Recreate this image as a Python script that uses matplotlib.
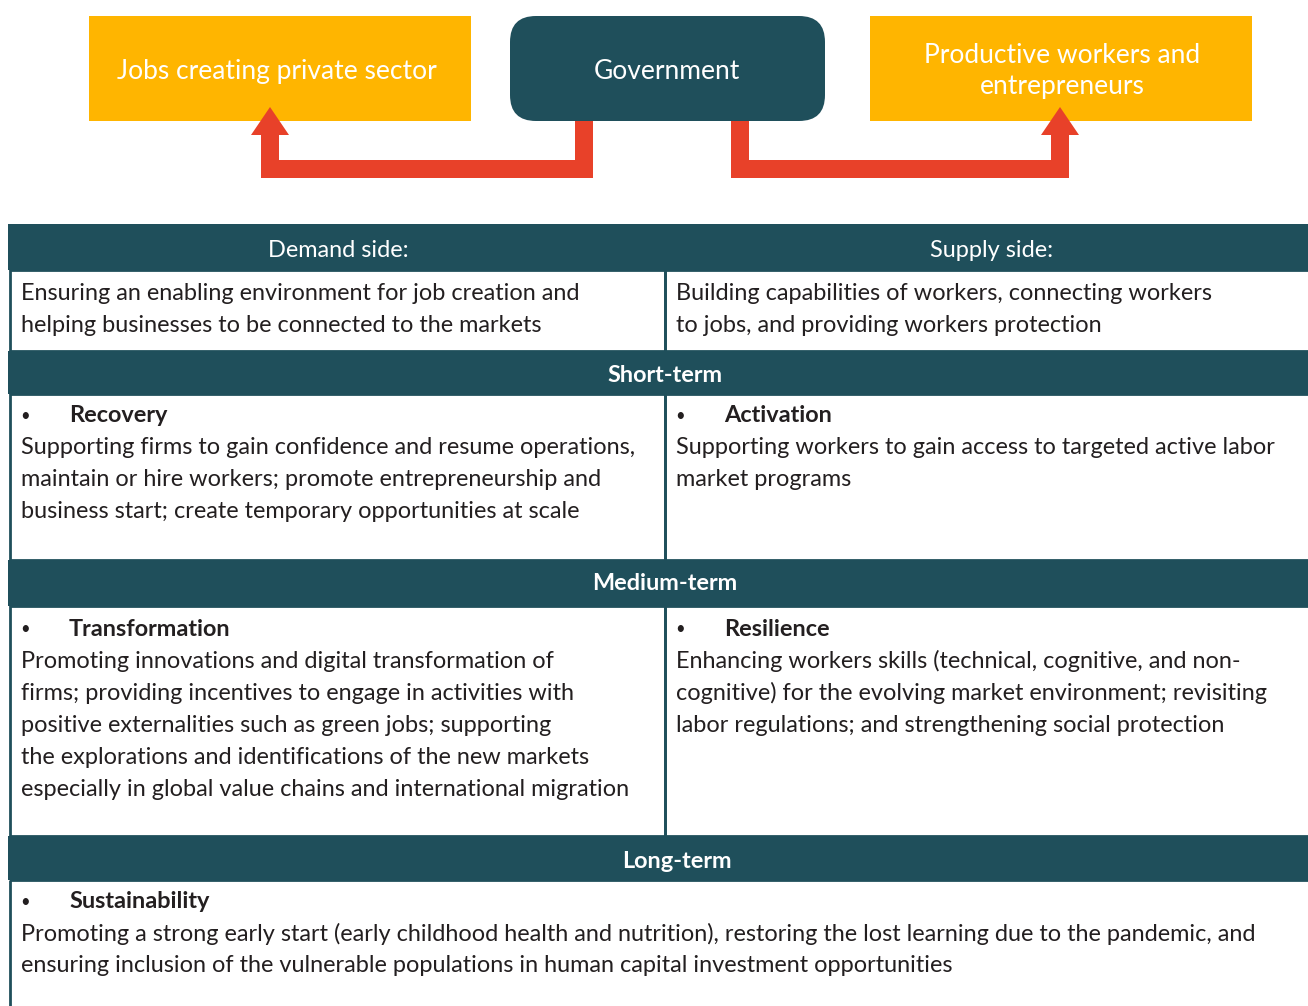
import matplotlib
matplotlib.use('Agg')
import matplotlib.pyplot as plt
from matplotlib.patches import Rectangle, FancyBboxPatch, Polygon

# ---- content ----
top_boxes = ['Jobs creating private sector', 'Government', 'Productive workers and\nentrepreneurs']
side_titles = ['Demand side:', 'Supply side:']
side_desc = [['Ensuring an enabling environment for job creation and',
              'helping businesses to be connected to the markets'],
             ['Building capabilities of workers, connecting workers',
              'to jobs, and providing workers protection']]
term_titles = ['Short-term', 'Medium-term', 'Long-term']
demand_heads = ['Recovery', 'Transformation']
demand_body = [['Supporting firms to gain confidence and resume operations,',
                'maintain or hire workers; promote entrepreneurship and',
                'business start; create temporary opportunities at scale'],
               ['Promoting innovations and digital transformation of',
                'firms; providing incentives to engage in activities with',
                'positive externalities such as green jobs; supporting',
                'the explorations and identifications of the new markets',
                'especially in global value chains and international migration']]
supply_heads = ['Activation', 'Resilience']
supply_body = [['Supporting workers to gain access to targeted active labor',
                'market programs'],
               ['Enhancing workers skills (technical, cognitive, and non-',
                'cognitive) for the evolving market environment; revisiting',
                'labor regulations; and strengthening social protection']]
long_head = 'Sustainability'
long_body = ['Promoting a strong early start (early childhood health and nutrition), restoring the lost learning due to the pandemic, and',
             'ensuring inclusion of the vulnerable populations in human capital investment opportunities']

# ---- style ----
TEAL = '#1f4f5b'
GOLD = '#ffb500'
RED = '#e84129'
INK = '#231f20'
FONT = 'Lato'
BODY = 16.9
LINE = 32
DY = 2  # small downward nudge for text baselines

fig = plt.figure(figsize=(13.08, 10.06), dpi=100)
ax = fig.add_axes([0, 0, 1, 1])
ax.set_xlim(0, 1308)
ax.set_ylim(1006, 0)
ax.axis('off')

# top boxes
ax.add_patch(Rectangle((89, 16), 382, 105, color=GOLD, lw=0))
ax.add_patch(Rectangle((870, 16), 382, 105, color=GOLD, lw=0))
ax.add_patch(FancyBboxPatch((510, 16), 315, 105, boxstyle='round,pad=0,rounding_size=26',
                            color=TEAL, lw=0))
for cx, t in zip([277, 667, 1062], top_boxes):
    ax.text(cx, 71, t, color='white', fontsize=19.0, family=FONT,
            ha='center', va='center', linespacing=1.33)

# elbow arrows
def elbow(x0, x1):
    w = 18
    xa, xb = min(x0, x1), max(x0, x1)
    ax.add_patch(Rectangle((x0 - w / 2, 121), w, 57, color=RED, lw=0))
    ax.add_patch(Rectangle((xa - w / 2, 160), xb - xa + w, 18, color=RED, lw=0))
    ax.add_patch(Rectangle((x1 - w / 2, 134), w, 44, color=RED, lw=0))
    ax.add_patch(Polygon([(x1 - 19, 135), (x1 + 19, 135), (x1, 107)], closed=True,
                         color=RED, lw=0))

elbow(584, 270)
elbow(740, 1060)

# table
L, R, MID = 8, 1340, 665
hdr_rows = [(224, 270), (351, 394), (560, 606), (836, 880)]
for y0, y1 in hdr_rows:
    ax.add_patch(Rectangle((L, y0), R - L, y1 - y0, color=TEAL, lw=0))

# cell borders
for y0, y1 in [(270, 351), (394, 560), (606, 836)]:
    ax.add_patch(Rectangle((L + 1.5, y0), MID - L - 1.5, y1 - y0, fill=False, ec=TEAL, lw=2))
    ax.add_patch(Rectangle((MID, y0), R - MID, y1 - y0, fill=False, ec=TEAL, lw=2))
ax.add_patch(Rectangle((L + 1.5, 880), R - L, 200, fill=False, ec=TEAL, lw=2))

for cx, t in zip([338, 992], side_titles):
    ax.text(cx, 248 + DY, t, color='white', fontsize=BODY, family=FONT,
            ha='center', va='center')
for x0, lines in zip([21, 676], side_desc):
    for i, ln in enumerate(lines):
        ax.text(x0, 292 + DY + i * LINE, ln, color=INK, fontsize=BODY, family=FONT,
                va='center')

for cx, cy, t in zip([665, 665, 677], [374, 582, 859], term_titles):
    ax.text(cx, cy + DY, t, color='white', fontsize=BODY, family=FONT, weight='bold',
            ha='center', va='center')

def cell(x0, y0, head, body):
    ax.text(x0 + 4, y0 + DY, '\u2022', color=INK, fontsize=12, family=FONT,
            ha='center', va='center')
    ax.text(x0 + 48, y0 + DY, head, color=INK, fontsize=BODY, family=FONT, weight='bold',
            va='center')
    for i, ln in enumerate(body):
        ax.text(x0, y0 + DY + (i + 1) * LINE, ln, color=INK, fontsize=BODY, family=FONT,
                va='center')

for y0, h, b in zip([414, 627], demand_heads, demand_body):
    cell(21, y0, h, b)
for y0, h, b in zip([414, 627], supply_heads, supply_body):
    cell(676, y0, h, b)
cell(21, 900, long_head, long_body)

fig.savefig('out.png', dpi=100)
